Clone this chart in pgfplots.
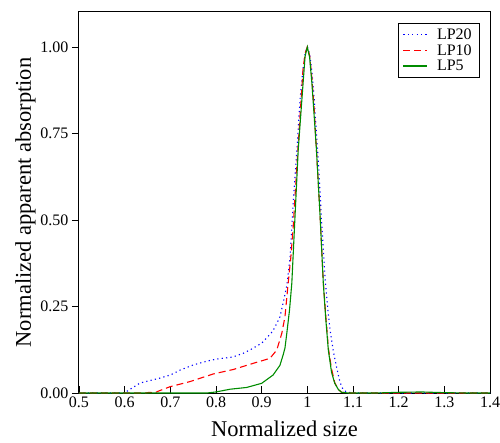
\documentclass[border=0pt]{standalone}
\usepackage{pgfplots}
\pgfplotsset{compat=1.18}
\usetikzlibrary{calc}
\usepackage{fontspec}
\setmainfont{Liberation Serif}

\definecolor{lpblue}{RGB}{0,0,255}
\definecolor{lpred}{RGB}{255,0,0}
\definecolor{lpgreen}{RGB}{0,140,0}

\begin{document}
\begin{tikzpicture}
\begin{axis}[
    scale only axis,
    width=411pt, height=381pt,
    xmin=0.5, xmax=1.4,
    ymin=0, ymax=1.101,
    xtick={0.5,0.6,...,1.41},
    ytick={0,0.25,0.5,0.75,1},
    xtick pos=bottom, ytick pos=left,
    xtick align=inside, ytick align=outside,
    major tick length=7pt,
    tick style={black, line width=0.8pt},
    axis line style={black, line width=1pt},
    yticklabel style={/pgf/number format/.cd, fixed, fixed zerofill, precision=2},
    xticklabel style={/pgf/number format/.cd, fixed, precision=1},
    /pgf/number format/assume math mode=true,
    tick label style={font=\fontsize{16}{18}\selectfont},
    label style={font=\fontsize{22.5}{25}\selectfont},
    xlabel={Normalized size},
    ylabel={Normalized apparent absorption},
    xlabel style={yshift=-7pt},
    ylabel style={yshift=-2pt},
    legend style={at={(rel axis cs:0.973,0.971)}, anchor=north east,
        font=\fontsize{16}{18}\selectfont,
        inner xsep=5pt, inner ysep=3.5pt, row sep=-0.5pt},
    legend cell align=left,
    legend image code/.code={
        \draw[#1] (0pt,0pt) -- (24pt,0pt);
        \path (31pt,0pt);
    },
    every axis plot/.append style={line width=1.1pt},
]
\addplot[draw=lpblue, dash pattern=on 1.2pt off 3.2pt] coordinates {
(0.5,0) (0.6,0) (0.605,0.005) (0.634,0.029) (0.677,0.043) (0.70,0.052)
(0.721,0.066) (0.75,0.081) (0.78,0.092) (0.801,0.098) (0.837,0.104)
(0.86,0.115) (0.874,0.124) (0.9,0.144) (0.915,0.165) (0.925,0.18)
(0.94,0.22) (0.947,0.26) (0.955,0.31) (0.962,0.39) (0.969,0.55)
(0.977,0.70) (0.984,0.847) (0.99,0.93) (0.995,0.98) (1.0,1.0)
(1.005,0.98) (1.01,0.93) (1.015,0.85) (1.02,0.75) (1.025,0.65)
(1.031,0.50) (1.039,0.33) (1.045,0.24) (1.05,0.18) (1.057,0.12)
(1.064,0.075) (1.07,0.04) (1.075,0.018) (1.08,0.008) (1.086,0.003)
(1.1,0) (1.4,0)
};
\addlegendentry{LP20}
\addplot[draw=lpred, dash pattern=on 7pt off 4pt] coordinates {
(0.5,0) (0.645,0) (0.655,0.002) (0.665,0.0) (0.675,0.006) (0.699,0.018)
(0.743,0.033) (0.794,0.055) (0.838,0.068) (0.882,0.086) (0.918,0.10)
(0.933,0.124) (0.944,0.172) (0.951,0.22) (0.958,0.317) (0.964,0.394)
(0.969,0.48) (0.977,0.654) (0.984,0.80) (0.991,0.943) (0.996,0.985)
(1.0,1.0) (1.005,0.975) (1.01,0.91) (1.015,0.82) (1.02,0.70)
(1.028,0.51) (1.035,0.32) (1.04,0.23) (1.046,0.13) (1.053,0.07)
(1.06,0.03) (1.068,0.01) (1.075,0.002) (1.09,0) (1.4,0)
};
\addlegendentry{LP10}
\addplot[draw=lpgreen] coordinates {
(0.5,0) (0.78,0) (0.80,0.003) (0.831,0.011) (0.867,0.016) (0.9,0.028)
(0.925,0.052) (0.94,0.08) (0.947,0.11) (0.951,0.13) (0.955,0.172)
(0.961,0.24) (0.966,0.317) (0.973,0.51) (0.98,0.702) (0.988,0.847)
(0.995,0.972) (1.0,1.0) (1.005,0.97) (1.01,0.895) (1.015,0.80)
(1.02,0.702) (1.028,0.51) (1.035,0.317) (1.04,0.22) (1.046,0.124)
(1.053,0.06) (1.06,0.028) (1.068,0.01) (1.075,0.002) (1.09,0)
(1.15,0) (1.2,0.002) (1.25,0.003) (1.3,0.001) (1.35,0) (1.4,0)
};
\addlegendentry{LP5}
\end{axis}
\pgfresetboundingbox
\path ($(current axis.south west)+(-79pt,-49pt)$) rectangle ($(current axis.north east)+(10pt,12pt)$);
\end{tikzpicture}
\end{document}
